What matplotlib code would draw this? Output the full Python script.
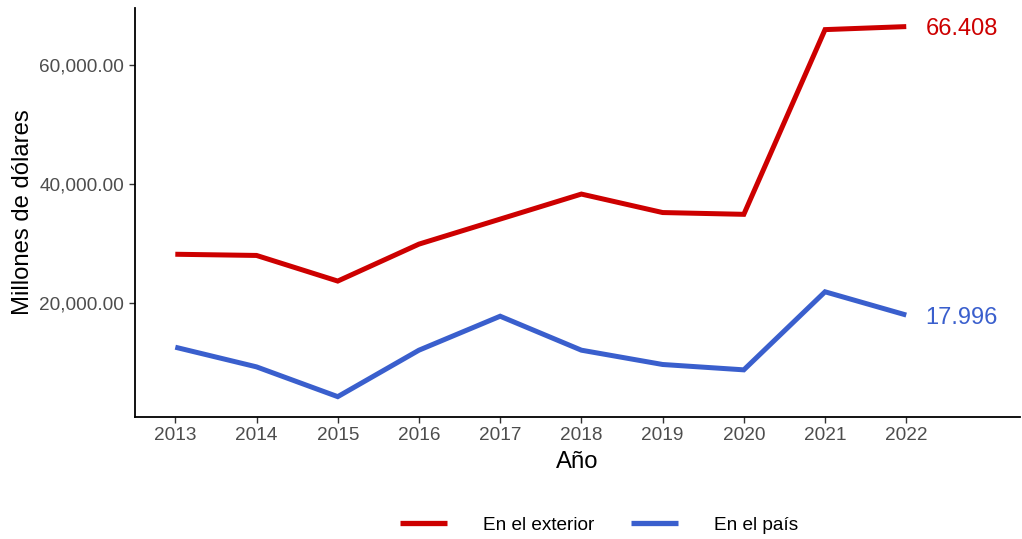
import matplotlib
matplotlib.use("Agg")
import matplotlib.pyplot as plt
from matplotlib.lines import Line2D
from matplotlib.ticker import FuncFormatter

plt.rcParams['font.family'] = ['Liberation Sans', 'DejaVu Sans']

years = [2013, 2014, 2015, 2016, 2017, 2018, 2019, 2020, 2021, 2022]
exterior = [28200, 28000, 23700, 29900, 34100, 38300, 35200, 34900, 65900, 66408]
pais = [12600, 9300, 4300, 12100, 17800, 12100, 9700, 8800, 21900, 17996]
series_names = ["En el exterior", "En el país"]
end_labels = ["66.408", "17.996"]
colors = ["#CD0000", "#3A5FCD"]
yticks = [20000, 40000, 60000]

fig = plt.figure(figsize=(10.22, 5.39), dpi=100)
ax = fig.add_axes([0.1318, 0.227, 0.998 - 0.1318, 0.985 - 0.227])

for vals, c, lab in zip([exterior, pais], colors, end_labels):
    ax.plot(years, vals, color=c, lw=3.6, solid_capstyle='butt', solid_joinstyle='miter')
    ax.text(years[-1] + 0.24, vals[-1], lab, color=c, fontsize=17.0,
            ha='left', va='center_baseline')

allv = exterior + pais
lo, hi = min(allv), max(allv)
rng = hi - lo
ax.set_ylim(lo - 0.054 * rng, hi + 0.05 * rng)
ax.set_xlim(2012.5, 2023.4)
ax.set_xticks(years)
ax.set_yticks(yticks)
ax.yaxis.set_major_formatter(FuncFormatter(lambda v, p: f"{v:,.2f}"))

for s in ['top', 'right']:
    ax.spines[s].set_visible(False)
for s in ['left', 'bottom']:
    ax.spines[s].set_linewidth(1.3)
    ax.spines[s].set_color('black')
ax.tick_params(axis='both', length=4.5, width=1.0, color='#333333',
               labelcolor='#4D4D4D', labelsize=13.7, pad=3)

ax.set_xlabel("Año", fontsize=17.2, color='black', labelpad=5)
ax.set_ylabel("Millones de dólares", fontsize=17.2, color='black', labelpad=4)

handles = [Line2D([], [], color=c, lw=3.8, solid_capstyle='butt') for c in colors]
fig.legend(handles, series_names, loc='center', bbox_to_anchor=(599 / 1022, 1 - 525 / 539),
           ncol=2, frameon=False, fontsize=13.7, handlelength=2.46,
           handletextpad=1.9, columnspacing=1.9, borderpad=0, borderaxespad=0)

fig.savefig("out.png", dpi=100)
